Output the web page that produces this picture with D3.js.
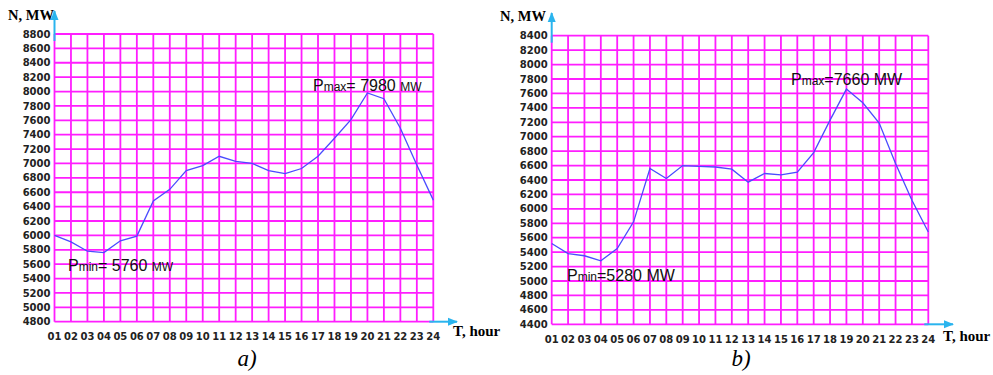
<!DOCTYPE html>
<html>
<head>
<meta charset="utf-8">
<script src="https://cdn.jsdelivr.net/npm/d3@7"></script>
<style>
  body { margin: 0; background: #fff; }
  svg { display: block; }
</style>
</head>
<body>
<div id="chart"></div>
<script>
var width = 993,
    height = 375

// hours of the day
var hours = d3.range(1, 25)

// load curve of panel a), MW
var loadA = [6000, 5910, 5780, 5760, 5925, 5990, 6480, 6640, 6900, 6970, 7100, 7030,
             7000, 6900, 6860, 6930, 7100, 7350, 7610, 7980, 7900, 7490, 6980, 6490]
// load curve of panel b), MW
var loadB = [5520, 5380, 5350, 5280, 5450, 5820, 6560, 6420, 6600, 6590, 6580, 6550,
             6370, 6490, 6470, 6510, 6780, 7230, 7660, 7470, 7190, 6630, 6120, 5680]

var yTicksA = d3.range(4800, 8801, 200)
var yTicksB = d3.range(4400, 8401, 200)

var pminA = 5760, pmaxA = 7980
var pminB = 5280, pmaxB = 7660

var svg = d3.select('#chart').append('svg')
    .attr('width', width)
    .attr('height', height)

var defs = svg.append('defs')
defs.append('marker')
    .attr('id', 'arrow')
    .attr('viewBox', '0 0 10 10')
    .attr('refX', 9).attr('refY', 5)
    .attr('markerWidth', 5).attr('markerHeight', 5)
    .attr('orient', 'auto')
  .append('path')
    .attr('d', 'M0,1 L10,5 L0,9 Z')
    .attr('fill', '#2ab4ee')

drawPanel({
  data: loadA, ticks: yTicksA,
  left: 54.5, right: 433.3, top: 34, bottom: 321.7,
  xLabelY: 340, yTitle: [8, 20], xTitle: [453, 336], xArrow: 457, yArrow: 11,
  pmin: pminA, pmax: pmaxA,
  pminPos: [68, 271], pmaxPos: [313, 91], smallMW: true, gapEq: true,
  caption: 'a)', captionX: 247
})

drawPanel({
  data: loadB, ticks: yTicksB,
  left: 551.7, right: 928.3, top: 35.7, bottom: 324.3,
  xLabelY: 343, yTitle: [500, 21], xTitle: [943, 341], xArrow: 953, yArrow: 13,
  pmin: pminB, pmax: pmaxB,
  pminPos: [567, 281], pmaxPos: [791, 85], smallMW: false, gapEq: false,
  caption: 'b)', captionX: 741
})

function drawPanel(c) {
  var g = svg.append('g')

  var x = d3.scaleLinear().domain([1, 24]).range([c.left, c.right])
  var y = d3.scaleLinear().domain([c.ticks[0], c.ticks[c.ticks.length - 1]])
      .range([c.bottom, c.top])

  // grid
  g.selectAll('.hline').data(c.ticks).enter().append('line')
      .attr('x1', x(1)).attr('x2', x(24))
      .attr('y1', d => y(d)).attr('y2', d => y(d))
      .attr('stroke', '#ff1eff').attr('stroke-width', 1.8)
  g.selectAll('.vline').data(hours).enter().append('line')
      .attr('x1', d => x(d)).attr('x2', d => x(d))
      .attr('y1', y.range()[1]).attr('y2', y.range()[0])
      .attr('stroke', '#ff1eff').attr('stroke-width', 1.8)

  // blue axis arrows
  g.append('line')
      .attr('x1', x(1)).attr('x2', x(1))
      .attr('y1', y.range()[1] + 7).attr('y2', c.yArrow)
      .attr('stroke', '#2ab4ee').attr('stroke-width', 2)
      .attr('marker-end', 'url(#arrow)')
  g.append('line')
      .attr('x1', x(24) - 4).attr('x2', c.xArrow)
      .attr('y1', y.range()[0]).attr('y2', y.range()[0])
      .attr('stroke', '#2ab4ee').attr('stroke-width', 2)
      .attr('marker-end', 'url(#arrow)')

  // tick labels
  g.selectAll('.ylab').data(c.ticks).enter().append('text')
      .attr('x', x(1) - 4).attr('y', d => y(d) + 3.6)
      .attr('text-anchor', 'end')
      .style('font', 'bold 10px "DejaVu Sans", Verdana, sans-serif')
      .attr('fill', '#222')
      .text(d => d)
  g.selectAll('.xlab').data(hours).enter().append('text')
      .attr('x', d => x(d)).attr('y', c.xLabelY)
      .attr('text-anchor', 'middle')
      .style('font', 'bold 10px "DejaVu Sans", Verdana, sans-serif')
      .attr('fill', '#222')
      .text(d => d3.format('02d')(d))

  // axis titles
  g.append('text')
      .attr('x', c.yTitle[0]).attr('y', c.yTitle[1])
      .style('font', 'bold 14.5px "Liberation Serif", "Times New Roman", serif')
      .text('N, MW')
  g.append('text')
      .attr('x', c.xTitle[0]).attr('y', c.xTitle[1])
      .style('font', 'bold 15px "Liberation Serif", "Times New Roman", serif')
      .text('T, hour')

  // load curve
  var line = d3.line()
      .x((d, i) => x(hours[i]))
      .y(d => y(d))
  g.append('path')
      .datum(c.data)
      .attr('d', line)
      .attr('fill', 'none')
      .attr('stroke', '#4b4bff')
      .attr('stroke-width', 1.3)

  // annotations
  annot(g, c.pminPos, 'min', c.pmin, c.smallMW, c.gapEq)
  annot(g, c.pmaxPos, 'max', c.pmax, c.smallMW, c.gapEq)

  g.append('text')
      .attr('x', c.captionX).attr('y', 366)
      .attr('text-anchor', 'middle')
      .style('font', 'italic 23px "Liberation Serif", "Times New Roman", serif')
      .text(c.caption)
}

function annot(g, pos, sub, val, smallMW, gapEq) {
  var t = g.append('text')
      .attr('x', pos[0]).attr('y', pos[1])
      .style('font-family', '"Liberation Sans", Arial, sans-serif')
      .style('font-size', '16px')
      .attr('fill', '#111')
  t.append('tspan').text('P')
  t.append('tspan').style('font-size', '12px').text(sub)
  t.append('tspan').text('=' + (gapEq ? ' ' : '') + val + ' ')
  t.append('tspan').style('font-size', smallMW ? '12px' : '16px').text('MW')
}
</script>
</body>
</html>
